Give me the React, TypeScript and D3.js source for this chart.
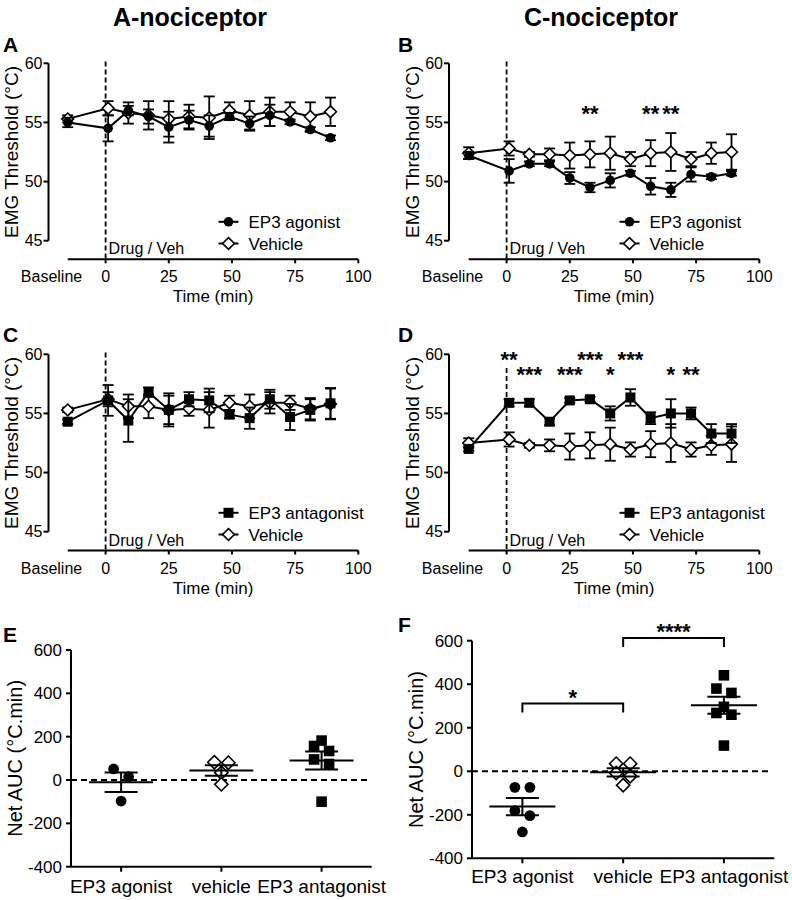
import React from 'react';
import * as d3 from 'd3';

const FONT = "'Liberation Sans', Arial, Helvetica, sans-serif";

// ---------- time-course data ----------
const times = [-15, 1, 9, 17, 25, 33, 41, 49, 57, 65, 73, 81, 89];
const xTickVals = [0, 25, 50, 75, 100];
const yTickVals = [45, 50, 55, 60];

const aAgonistMean = [55.0, 54.5, 56.0, 55.5, 54.6, 55.2, 54.7, 55.5, 54.9, 55.6, 55.05, 54.4, 53.7];
const aAgonistSem = [0.4, 1.1, 0.4, 0.6, 1.3, 0.8, 0.9, 0.3, 0.6, 0.9, 0.2, 0.2, 0.2];
const aVehMean = [55.3, 56.2, 55.8, 55.6, 55.3, 55.5, 55.4, 56.0, 55.6, 55.9, 55.9, 55.5, 55.9];
const aVehSem = [0.3, 0.6, 0.9, 1.2, 1.5, 1.0, 1.8, 0.7, 1.2, 1.2, 0.8, 1.2, 1.2];

const bAgonistMean = [52.2, 50.9, 51.5, 51.5, 50.3, 49.5, 50.1, 50.7, 49.6, 49.3, 50.6, 50.4, 50.7];
const bAgonistSem = [0.3, 1.0, 0.2, 0.2, 0.5, 0.4, 0.6, 0.2, 0.7, 0.6, 0.6, 0.2, 0.2];
const bVehMean = [52.4, 52.8, 52.3, 52.3, 52.2, 52.3, 52.4, 51.9, 52.4, 52.5, 51.9, 52.4, 52.5];
const bVehSem = [0.5, 0.6, 0.2, 0.5, 1.1, 1.1, 1.4, 0.6, 1.1, 1.6, 0.6, 0.9, 1.5];

const cAntMean = [54.3, 56.1, 54.4, 56.8, 55.3, 56.2, 56.1, 54.9, 54.6, 56.2, 54.7, 55.3, 55.85];
const cAntSem = [0.2, 1.3, 1.8, 0.4, 1.4, 0.6, 1.0, 0.3, 0.9, 0.8, 1.1, 0.9, 1.3];
const cVehMean = [55.3, 56.2, 55.6, 55.6, 55.3, 55.4, 55.3, 55.9, 55.6, 55.9, 55.9, 55.4, 55.8];
const cVehSem = [0.2, 0.6, 1.0, 1.0, 1.2, 0.6, 1.5, 0.6, 1.0, 0.9, 0.6, 0.9, 1.3];

const dAntMean = [52.0, 55.9, 55.9, 54.3, 56.1, 56.2, 55.0, 56.35, 54.6, 55.0, 55.0, 53.3, 53.3];
const dAntSem = [0.2, 0.3, 0.3, 0.3, 0.2, 0.2, 0.6, 0.7, 0.5, 1.2, 0.5, 0.8, 0.8];
const dVehMean = [52.5, 52.8, 52.3, 52.3, 52.2, 52.3, 52.4, 51.95, 52.4, 52.5, 51.95, 52.3, 52.4];
const dVehSem = [0.4, 0.6, 0.2, 0.5, 1.1, 1.1, 1.4, 0.6, 1.1, 1.6, 0.6, 0.8, 1.5];

// significance labels: [time, label]
const bStars: [number, string][] = [[33, '**'], [57, '**'], [65, '**']];
const dStarsTop: [number, string][] = [[1, '**'], [33, '***'], [49, '***']];
const dStarsLow: [number, string][] = [[9, '***'], [25, '***'], [41, '*'], [65, '*'], [73, '**']];

// ---------- AUC data ----------
const categories = ['EP3 agonist', 'vehicle', 'EP3 antagonist'];
const aucTicks = [-400, -200, 0, 200, 400, 600];
const eAgonist = [51, 15, -97];
const eVehicle = [82, 80, 34, -20];
const eAntagonist = [182, 157, 134, 95, 74, -100];
const fAgonist = [-74, -74, -181, -204, -279];
const fVehicle = [35, 35, -8, -23, -64];
const fAntagonist = [441, 380, 360, 296, 268, 260, 118];

type Shape = 'circle' | 'square' | 'diamond';

function Marker({ shape, x, y, s }: { shape: Shape; x: number; y: number; s: number }) {
  if (shape === 'circle') return <circle cx={x} cy={y} r={s} fill="#000" />;
  if (shape === 'square')
    return <rect x={x - s} y={y - s} width={2 * s} height={2 * s} fill="#000" />;
  return (
    <path
      d={`M${x},${y - s * 1.25}L${x + s * 1.25},${y}L${x},${y + s * 1.25}L${x - s * 1.25},${y}Z`}
      fill="#fff"
      stroke="#000"
      strokeWidth={1.6}
    />
  );
}

type Series = { mean: number[]; sem: number[]; shape: Shape; label: string };

type TSConfig = {
  x0: number;
  x1: number;
  yAxisX: number;
  yTop: number;
  yBot: number;
  xAxisY: number;
  drugTop: number;
  series: Series[];
  starsTop?: [number, string][];
  starsLow?: [number, string][];
  starTopY?: number;
  starLowY?: number;
};

function TimePanel({ c }: { c: TSConfig }) {
  const x = d3.scaleLinear().domain([-15, 100]).range([c.x0, c.x1]);
  const y = d3.scaleLinear().domain([45, 60]).range([c.yBot, c.yTop]);
  const line = d3
    .line<number>()
    .x((_, i) => x(times[i]))
    .y((d) => y(d));
  const cap = 5.5;
  const msz = (sh: Shape) => (sh === 'circle' ? 4.8 : sh === 'square' ? 5 : 4.7);
  const legendRows = c.series.slice().reverse();
  return (
    <g fontFamily={FONT}>
      {/* y axis */}
      <line x1={c.yAxisX} x2={c.yAxisX} y1={y(45)} y2={y(60)} stroke="#000" strokeWidth={2} />
      {yTickVals.map((t) => (
        <g key={t}>
          <line x1={c.yAxisX - 5} x2={c.yAxisX} y1={y(t)} y2={y(t)} stroke="#000" strokeWidth={2} />
          <text x={c.yAxisX - 6} y={y(t)} dy="0.36em" textAnchor="end" fontSize={16}>
            {t}
          </text>
        </g>
      ))}
      <text
        transform={`translate(${c.yAxisX - 37},${(y(45) + y(60)) / 2}) rotate(-90)`}
        textAnchor="middle"
        dy="0.36em"
        fontSize={19}
      >
        EMG Threshold (°C)
      </text>
      {/* x axis */}
      <line x1={x(-15)} x2={x(100)} y1={c.xAxisY} y2={c.xAxisY} stroke="#000" strokeWidth={2} />
      {xTickVals.map((t) => (
        <g key={t}>
          <line x1={x(t)} x2={x(t)} y1={c.xAxisY} y2={c.xAxisY + 4} stroke="#000" strokeWidth={2} />
          <text x={x(t)} y={c.xAxisY + 23} textAnchor="middle" fontSize={16}>
            {t}
          </text>
        </g>
      ))}
      <text x={x(-15) + 14.5} y={c.xAxisY + 23} textAnchor="end" fontSize={16}>
        Baseline
      </text>
      <text x={(x(-15) + x(100)) / 2} y={c.xAxisY + 43} textAnchor="middle" fontSize={17}>
        Time (min)
      </text>
      {/* drug line */}
      <line
        x1={x(0)}
        x2={x(0)}
        y1={c.drugTop}
        y2={c.xAxisY}
        stroke="#000"
        strokeWidth={1.8}
        strokeDasharray="5,3"
      />
      <text x={x(0) + 3} y={c.xAxisY - 5} fontSize={16}>
        Drug / Veh
      </text>
      {/* series */}
      {c.series.map((s, si) => (
        <g key={si}>
          <path d={line(s.mean) || ''} fill="none" stroke="#000" strokeWidth={2} />
          {s.mean.map((m, i) => {
            const xx = x(times[i]);
            const yt = y(m + s.sem[i]);
            const yb = y(m - s.sem[i]);
            return (
              <g key={i} stroke="#000" strokeWidth={1.8}>
                <line x1={xx} x2={xx} y1={yt} y2={yb} />
                <line x1={xx - cap} x2={xx + cap} y1={yt} y2={yt} />
                <line x1={xx - cap} x2={xx + cap} y1={yb} y2={yb} />
              </g>
            );
          })}
          {s.mean.map((m, i) => (
            <Marker key={'m' + i} shape={s.shape} x={x(times[i])} y={y(m)} s={msz(s.shape)} />
          ))}
        </g>
      ))}
      {/* legend */}
      {legendRows.map((s, i) => {
        const ly = c.yTop + 158.5 + i * 21.7;
        const lx = c.x0 + 160.8;
        return (
          <g key={'l' + i}>
            <line x1={lx - 10} x2={lx + 10} y1={ly} y2={ly} stroke="#000" strokeWidth={2} />
            <Marker shape={s.shape} x={lx} y={ly} s={msz(s.shape)} />
            <text x={lx + 20} y={ly} dy="0.36em" fontSize={17}>
              {s.label}
            </text>
          </g>
        );
      })}
      {/* stars */}
      {(c.starsTop || []).map(([t, l], i) => (
        <text key={'st' + i} x={x(t)} y={c.starTopY} textAnchor="middle" fontSize={22} fontWeight="bold">
          {l}
        </text>
      ))}
      {(c.starsLow || []).map(([t, l], i) => (
        <text key={'sl' + i} x={x(t)} y={c.starLowY} textAnchor="middle" fontSize={22} fontWeight="bold">
          {l}
        </text>
      ))}
    </g>
  );
}

type AUCConfig = {
  yAxisX: number;
  xEnd: number;
  yTop: number;
  yBot: number;
  labelDy: number;
  groups: { vals: number[]; shape: Shape }[];
  meanW: number;
  brackets?: { a: number; b: number; v: number; label: string }[];
};

function swarm(vals: number[], py: (v: number) => number, binH: number, step: number) {
  const bins = new Map<number, number[]>();
  vals.forEach((v, i) => {
    const b = Math.floor((py(0) - py(v)) / binH);
    if (!bins.has(b)) bins.set(b, []);
    bins.get(b)!.push(i);
  });
  const off = vals.map(() => 0);
  bins.forEach((idx) => {
    const n = idx.length;
    idx.forEach((id, k) => {
      off[id] = (k - (n - 1) / 2) * step;
    });
  });
  return off;
}

function AUCPanel({ c }: { c: AUCConfig }) {
  const y = d3.scaleLinear().domain([-400, 600]).range([c.yBot, c.yTop]);
  const x = d3.scalePoint<string>().domain(categories).range([c.yAxisX, c.xEnd]).padding(0.5);
  return (
    <g fontFamily={FONT}>
      <line x1={c.yAxisX} x2={c.yAxisX} y1={c.yBot} y2={c.yTop} stroke="#000" strokeWidth={2} />
      {aucTicks.map((t) => (
        <g key={t}>
          <line x1={c.yAxisX - 5} x2={c.yAxisX} y1={y(t)} y2={y(t)} stroke="#000" strokeWidth={2} />
          <text x={c.yAxisX - 9} y={y(t)} dy="0.36em" textAnchor="end" fontSize={17}>
            {t}
          </text>
        </g>
      ))}
      <text
        transform={`translate(${c.yAxisX - 56},${(c.yBot + c.yTop) / 2}) rotate(-90)`}
        textAnchor="middle"
        dy="0.36em"
        fontSize={20}
      >
        Net AUC (°C.min)
      </text>
      <line x1={c.yAxisX} x2={c.xEnd} y1={c.yBot} y2={c.yBot} stroke="#000" strokeWidth={2} />
      {categories.map((cat) => (
        <g key={cat}>
          <line x1={x(cat)} x2={x(cat)} y1={c.yBot} y2={c.yBot + 5} stroke="#000" strokeWidth={2} />
          <text x={x(cat)} y={c.yBot + c.labelDy} textAnchor="middle" fontSize={19}>
            {cat}
          </text>
        </g>
      ))}
      <line
        x1={c.yAxisX}
        x2={c.xEnd - 3}
        y1={y(0)}
        y2={y(0)}
        stroke="#000"
        strokeWidth={2}
        strokeDasharray="6,4"
      />
      {c.groups.map((g, gi) => {
        const cx = x(categories[gi])!;
        const step = g.shape === 'diamond' ? 14 : 15;
        const off = swarm(g.vals, y, 12, step);
        const mean = d3.mean(g.vals)!;
        const sem = d3.deviation(g.vals)! / Math.sqrt(g.vals.length);
        const ms = g.shape === 'circle' ? 5.4 : g.shape === 'square' ? 5.3 : 5.3;
        return (
          <g key={gi}>
            {g.vals.map((v, i) => (
              <Marker key={i} shape={g.shape} x={cx + off[i]} y={y(v)} s={ms} />
            ))}
            <g stroke="#000" strokeWidth={2}>
              <line x1={cx - c.meanW / 2} x2={cx + c.meanW / 2} y1={y(mean)} y2={y(mean)} />
              <line x1={cx} x2={cx} y1={y(mean + sem)} y2={y(mean - sem)} />
              <line x1={cx - 16.5} x2={cx + 16.5} y1={y(mean + sem)} y2={y(mean + sem)} />
              <line x1={cx - 16.5} x2={cx + 16.5} y1={y(mean - sem)} y2={y(mean - sem)} />
            </g>
          </g>
        );
      })}
      {(c.brackets || []).map((b, i) => {
        const xa = x(categories[b.a])!;
        const xb = x(categories[b.b])!;
        const yy = y(b.v);
        return (
          <g key={'b' + i}>
            <path
              d={`M${xa},${yy + 9}V${yy}H${xb}V${yy + 9}`}
              fill="none"
              stroke="#000"
              strokeWidth={2}
            />
            <text x={(xa + xb) / 2} y={yy + 1} textAnchor="middle" fontSize={22} fontWeight="bold">
              {b.label}
            </text>
          </g>
        );
      })}
    </g>
  );
}

const panelA: TSConfig = {
  x0: 67.7, x1: 358.3, yAxisX: 48.5, yTop: 63.3, yBot: 240.7, xAxisY: 259.3, drugTop: 61.5,
  series: [
    { mean: aVehMean, sem: aVehSem, shape: 'diamond', label: 'Vehicle' },
    { mean: aAgonistMean, sem: aAgonistSem, shape: 'circle', label: 'EP3 agonist' },
  ],
};
const panelB: TSConfig = {
  x0: 468.7, x1: 759.3, yAxisX: 449, yTop: 63.3, yBot: 240.7, xAxisY: 259.3, drugTop: 61.5,
  series: [
    { mean: bVehMean, sem: bVehSem, shape: 'diamond', label: 'Vehicle' },
    { mean: bAgonistMean, sem: bAgonistSem, shape: 'circle', label: 'EP3 agonist' },
  ],
  starsTop: bStars, starTopY: 120.5,
};
const panelC: TSConfig = {
  x0: 67.7, x1: 358.3, yAxisX: 48.5, yTop: 354.3, yBot: 531.7, xAxisY: 550.5, drugTop: 352.5,
  series: [
    { mean: cVehMean, sem: cVehSem, shape: 'diamond', label: 'Vehicle' },
    { mean: cAntMean, sem: cAntSem, shape: 'square', label: 'EP3 antagonist' },
  ],
};
const panelD: TSConfig = {
  x0: 468.7, x1: 759.3, yAxisX: 449, yTop: 354.3, yBot: 531.7, xAxisY: 550.5, drugTop: 368,
  series: [
    { mean: dVehMean, sem: dVehSem, shape: 'diamond', label: 'Vehicle' },
    { mean: dAntMean, sem: dAntSem, shape: 'square', label: 'EP3 antagonist' },
  ],
  starsTop: dStarsTop, starTopY: 367, starsLow: dStarsLow, starLowY: 382,
};

const panelE: AUCConfig = {
  yAxisX: 71, xEnd: 371.7, yTop: 650, yBot: 866.7, labelDy: 26, meanW: 64,
  groups: [
    { vals: eAgonist, shape: 'circle' },
    { vals: eVehicle, shape: 'diamond' },
    { vals: eAntagonist, shape: 'square' },
  ],
};
const panelF: AUCConfig = {
  yAxisX: 472, xEnd: 774.3, yTop: 640.7, yBot: 858.3, labelDy: 25, meanW: 66,
  groups: [
    { vals: fAgonist, shape: 'circle' },
    { vals: fVehicle, shape: 'diamond' },
    { vals: fAntagonist, shape: 'square' },
  ],
  brackets: [
    { a: 0, b: 1, v: 311, label: '*' },
    { a: 1, b: 2, v: 612, label: '****' },
  ],
};

export default function App() {
  return (
    <div style={{ position: 'absolute', left: 0, top: 0 }}>
      <svg width={792} height={900} style={{ display: 'block', background: '#fff' }}>
        <rect width={792} height={900} fill="#fff" />
        <g fontFamily={FONT} fontWeight="bold">
          <text x={190} y={26} textAnchor="middle" fontSize={25}>A-nociceptor</text>
          <text x={601} y={26} textAnchor="middle" fontSize={25}>C-nociceptor</text>
          <text x={3} y={52} fontSize={21}>A</text>
          <text x={398} y={52} fontSize={21}>B</text>
          <text x={3} y={342} fontSize={21}>C</text>
          <text x={398} y={342} fontSize={21}>D</text>
          <text x={3} y={642} fontSize={21}>E</text>
          <text x={398} y={632} fontSize={21}>F</text>
        </g>
        <TimePanel c={panelA} />
        <TimePanel c={panelB} />
        <TimePanel c={panelC} />
        <TimePanel c={panelD} />
        <AUCPanel c={panelE} />
        <AUCPanel c={panelF} />
      </svg>
    </div>
  );
}
